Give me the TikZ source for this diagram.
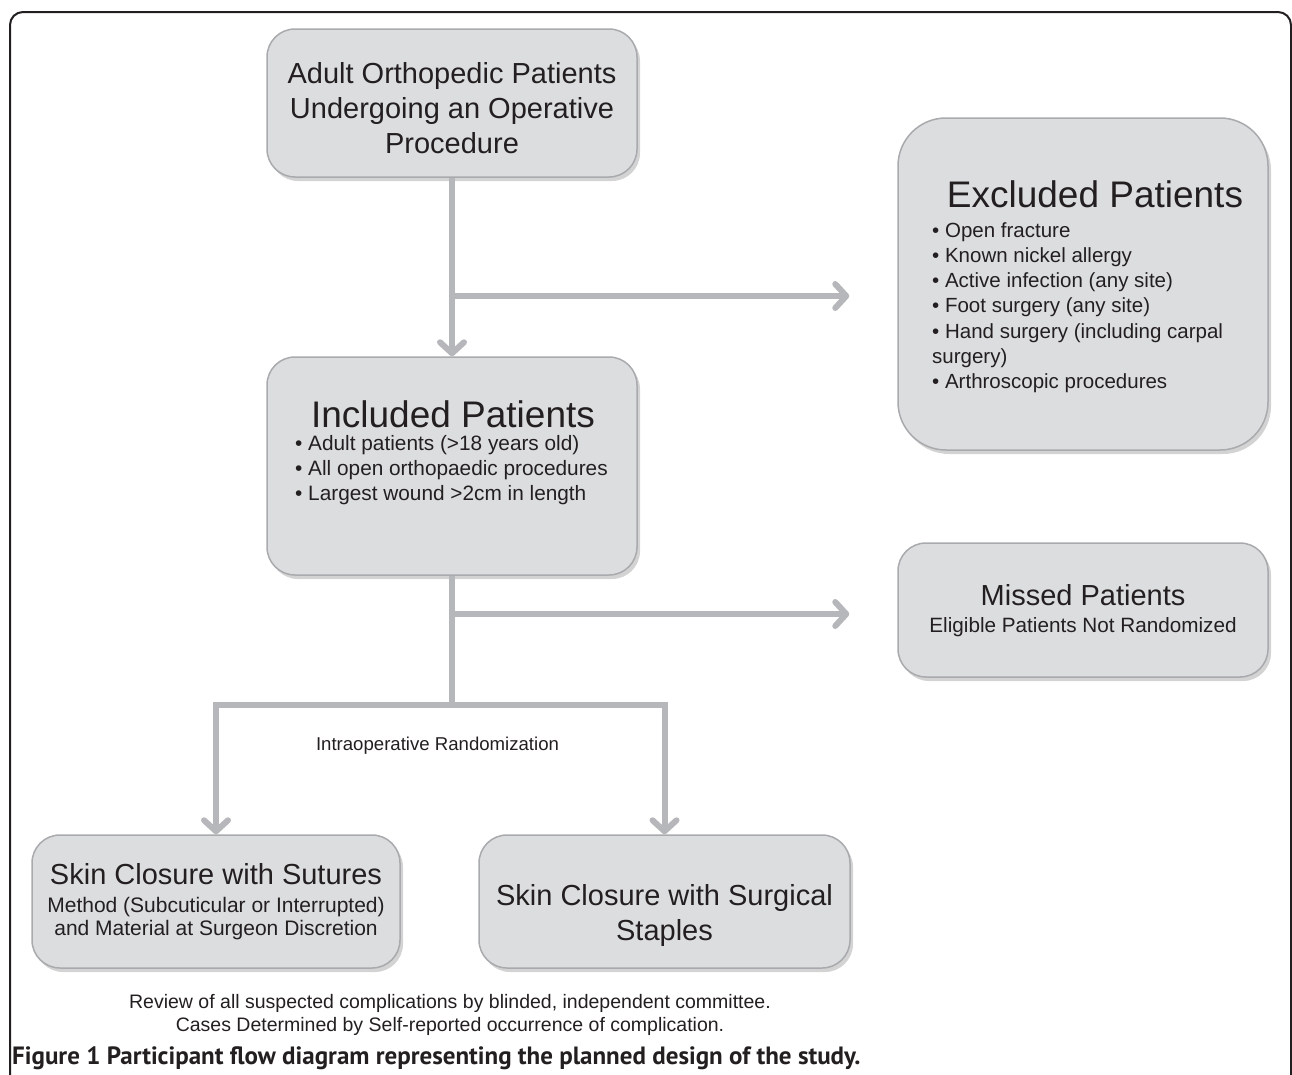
\documentclass[tikz,border=0pt]{standalone}
\usepackage{fontspec}
\setmainfont{Liberation Sans}
\newfontfamily\capfont{PT Sans}
\usetikzlibrary{positioning, arrows.meta, shadows}

\definecolor{boxfill}{HTML}{DCDDDF}
\definecolor{boxline}{HTML}{A9AAAD}
\definecolor{flowgray}{HTML}{B6B7BA}
\definecolor{ink}{HTML}{231F20}

\tikzset{
  pbox/.style={draw=boxline, line width=1.5pt, fill=boxfill, rounded corners=28pt,
    drop shadow={shadow xshift=3pt, shadow yshift=-4pt, opacity=0.35, fill=black!50},
    inner sep=0pt},
  flow/.style={draw=flowgray, line width=6pt,
    -{Straight Barb[length=11pt,width=24pt,round]}},
  link/.style={draw=flowgray, line width=6pt},
  txt/.style={text=ink, inner sep=0pt},
}

\begin{document}
\begin{tikzpicture}[x=1pt, y=-1pt]
   \useasboundingbox (0,0) rectangle (1292,1074);
   % frame of the figure
   \draw[ink, line width=2pt, rounded corners=13pt] (10,1100) -- (10,12) -- (1291,12) -- (1291,1100);

   % boxes
   \node[pbox, minimum width=370pt, minimum height=148pt] (adult) at (452,103) {};
   \node[pbox, minimum width=370pt, minimum height=218pt] (inc) at (452,466) {};
   \node[pbox, minimum width=370pt, minimum height=332pt, rounded corners=48pt] (exc) at (1083,284) {};
   \node[pbox, minimum width=370pt, minimum height=134pt] (mis) at (1083,610) {};
   \node[pbox, minimum width=368pt, minimum height=133pt] (sut) at (216,901.5) {};
   \node[pbox, minimum width=371pt, minimum height=133pt] (stp) at (664.5,901.5) {};

   % texts
   \node[txt, anchor=north, align=center, font=\fontsize{29}{35}\selectfont] (adultt) at (452,62)
      {Adult Orthopedic Patients\\Undergoing an Operative\\Procedure};
   \node[txt, anchor=base, font=\fontsize{37}{44}\selectfont] (inct) at (453,427) {Included Patients};
   \node[txt, anchor=north west, align=left, font=\fontsize{20.8}{25}\selectfont] (incl) at (295,435)
      {• Adult patients (>18 years old)\\• All open orthopaedic procedures\\• Largest wound >2cm in length};
   \node[txt, anchor=base, font=\fontsize{37}{44}\selectfont] (exct) at (1095,207) {Excluded Patients};
   \node[txt, anchor=north west, align=left, font=\fontsize{20.5}{25.3}\selectfont] (excl) at (932,222)
      {• Open fracture\\• Known nickel allergy\\• Active infection (any site)\\• Foot surgery (any site)\\• Hand surgery (including carpal\\surgery)\\• Arthroscopic procedures};
   \node[txt, anchor=base, font=\fontsize{29}{35}\selectfont] (mist) at (1083,605) {Missed Patients};
   \node[txt, anchor=base, font=\fontsize{20.7}{25}\selectfont] (misl) at (1083,632) {Eligible Patients Not Randomized};
   \node[txt, anchor=base, font=\fontsize{29}{35}\selectfont] (sutt) at (216,884) {Skin Closure with Sutures};
   \node[txt, anchor=north, align=center, font=\fontsize{21}{23.5}\selectfont] (sutl) at (216,897)
      {Method (Subcuticular or Interrupted)\\and Material at Surgeon Discretion};
   \node[txt, anchor=north, align=center, font=\fontsize{29}{35}\selectfont] (stpt) at (664.5,884)
      {Skin Closure with Surgical\\Staples};
   \node[txt, anchor=base, font=\fontsize{18.6}{22}\selectfont] (rand) at (437.5,750) {Intraoperative Randomization};
   \node[txt, anchor=north, align=center, font=\fontsize{19.5}{23}\selectfont] (review) at (450,994)
      {Review of all suspected complications by blinded, independent committee.\\Cases Determined by Self-reported occurrence of complication.};
   \node[txt, anchor=base west, font=\capfont\bfseries\fontsize{25}{29}\selectfont] (caption) at (12,1064)
      {Figure 1 Participant flow diagram representing the planned design of the study.};

   % connectors
   \coordinate (fork1) at (452,296);
   \coordinate (fork2) at (452,614);
   \coordinate (split) at (452,705);
   \draw[flow] (adult) -- (inc);
   \draw[flow, shorten >=48pt] (fork1) -- (fork1 -| exc.west);
   \draw[link] (inc) -- (split);
   \draw[flow, shorten >=48pt] (fork2) -- (fork2 -| mis.west);
   \draw[flow] (split) -| (sut);
   \draw[flow] (split) -| (stp);
\end{tikzpicture}
\end{document}
